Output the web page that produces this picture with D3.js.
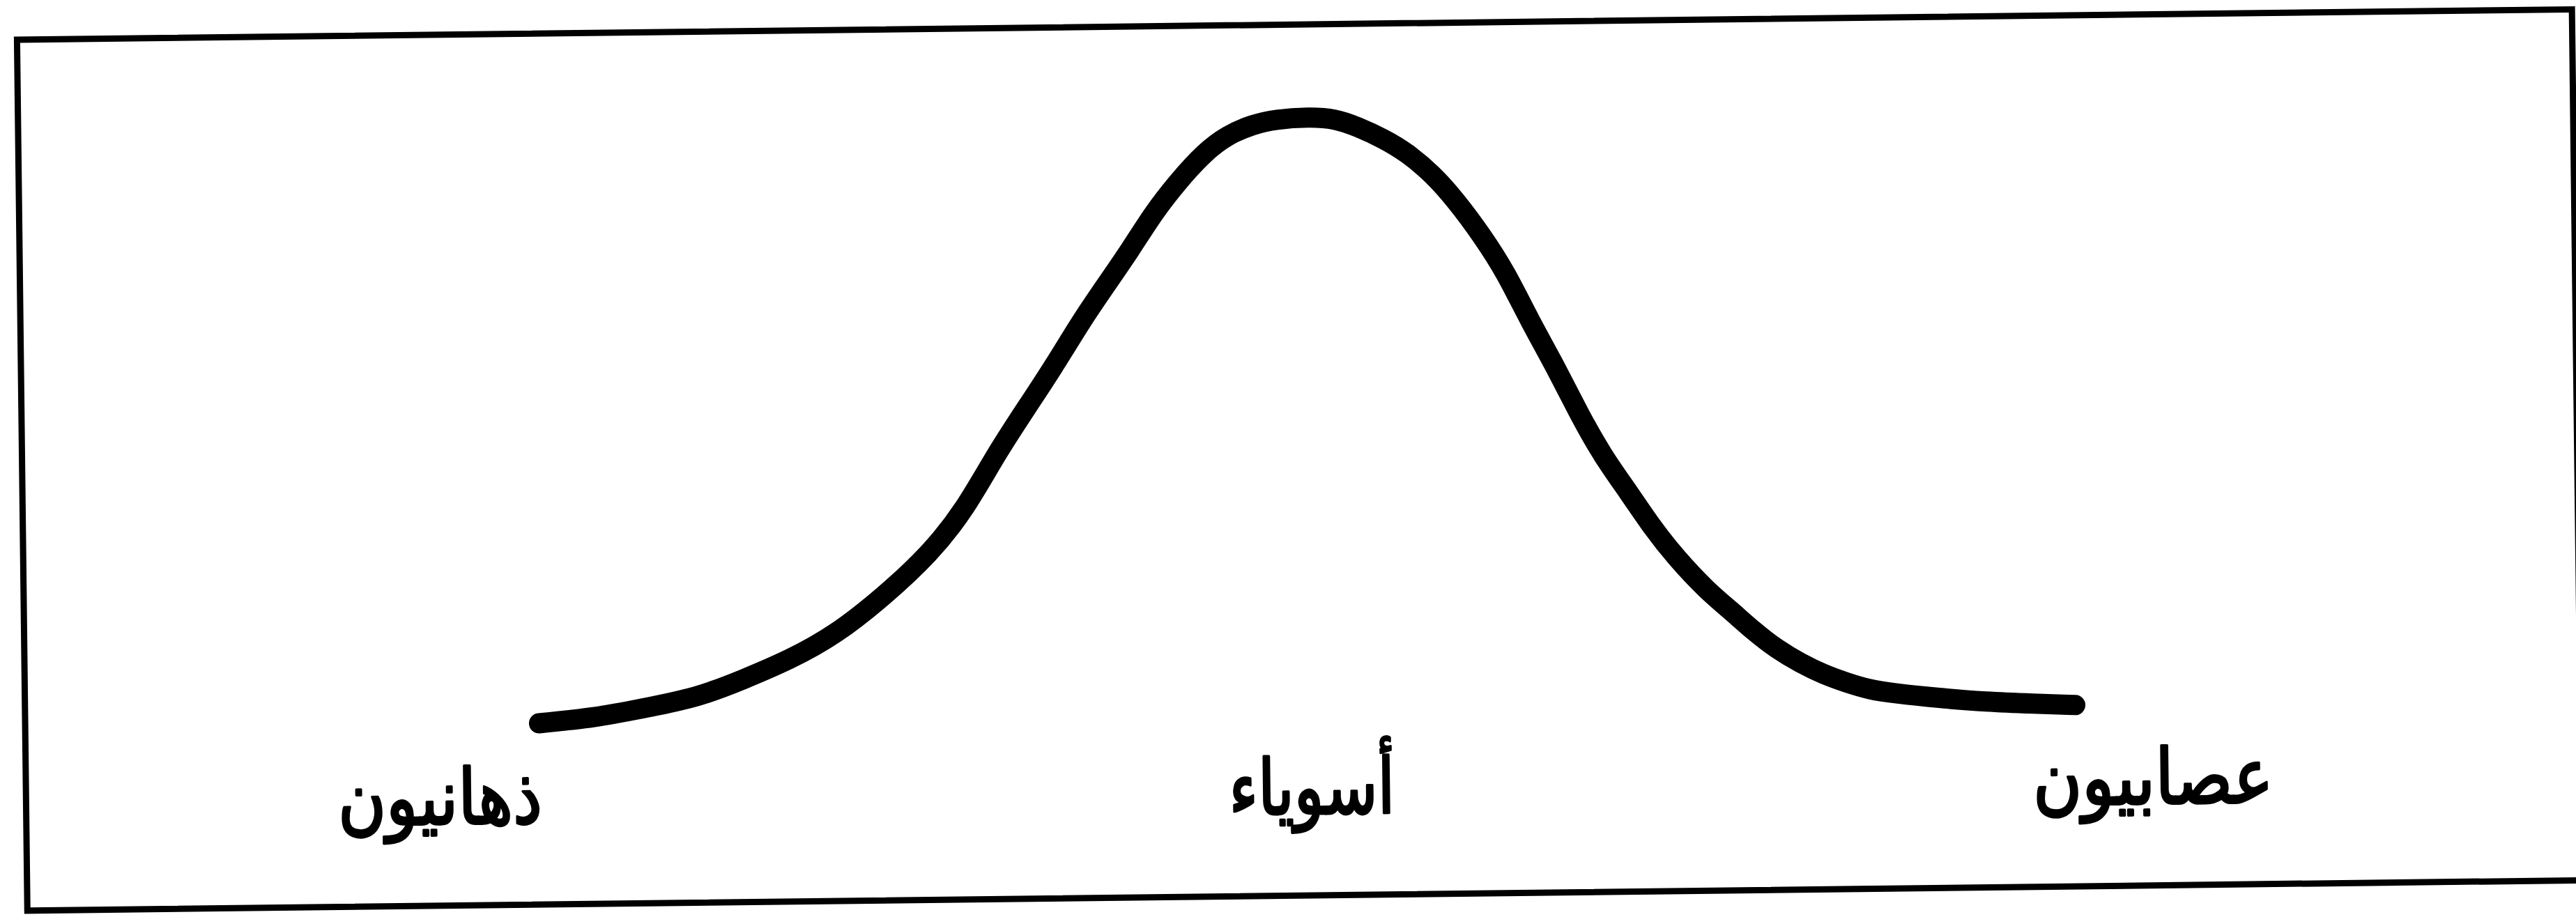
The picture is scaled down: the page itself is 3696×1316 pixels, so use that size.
<!DOCTYPE html>
<html>
<head>
<meta charset="utf-8">
<script src="https://cdn.jsdelivr.net/npm/d3@7"></script>
<style>
  html, body { margin: 0; padding: 0; background: #fff; }
  svg { display: block; }
</style>
</head>
<body>
<div id="chart"></div>
<script>
// curve: position in standard deviations, height relative to the peak
var scores = [-3.01, -2.79, -2.61, -2.39, -2.21, -2.03, -1.85, -1.66, -1.48, -1.34, -1.21, -1.07,
    -0.97, -0.88, -0.78, -0.68, -0.59, -0.49, -0.39, -0.30, -0.20, -0.11, 0.02, 0.12, 0.21, 0.31,
    0.40, 0.50, 0.59, 0.69, 0.78, 0.87, 0.97, 1.06, 1.15, 1.25, 1.34, 1.43, 1.55, 1.64, 1.73,
    1.82, 1.91, 2.00, 2.09, 2.18, 2.27, 2.45, 2.63, 2.82, 2.98];
var heights = [0.023, 0.031, 0.045, 0.062, 0.091, 0.122, 0.162, 0.224, 0.292, 0.364, 0.459, 0.545,
    0.608, 0.669, 0.729, 0.788, 0.847, 0.899, 0.944, 0.972, 0.989, 0.997, 1.000, 0.997, 0.983, 0.963,
    0.940, 0.904, 0.860, 0.802, 0.742, 0.663, 0.586, 0.508, 0.439, 0.379, 0.321, 0.272, 0.217, 0.185, 0.150,
    0.120, 0.097, 0.078, 0.064, 0.052, 0.046, 0.037, 0.030, 0.026, 0.023];

var categories = ['ذهانيون', 'أسوياء', 'عصابيون'];
var categoryScores = [-3.4, 0, 3.28];

var width = 3696,
    height = 1316,
    labelWidths = [293, 238, 345];

var svg = d3.select('#chart').append('svg')
    .attr('width', width)
    .attr('height', height);

var x = d3.scaleLinear().domain([-3, 3]).range([772, 2980]),
    y = d3.scaleLinear().domain([0, 1]).range([1045, 168]);

// the scanned page sits slightly askew
var page = svg.append('g').attr('transform', 'rotate(-0.68, 1878, 600)');

page.append('rect')
    .attr('x', 31)
    .attr('y', 35)
    .attr('width', 3666)
    .attr('height', 1250)
    .attr('fill', 'none')
    .attr('stroke', '#000')
    .attr('stroke-width', 9);

var line = d3.line()
    .x(d => x(d[0]))
    .y(d => y(d[1]))
    .curve(d3.curveBasis);

page.append('path')
    .datum(d3.zip(scores, heights))
    .attr('d', line)
    .attr('fill', 'none')
    .attr('stroke', '#000')
    .attr('stroke-width', 29)
    .attr('stroke-linecap', 'round')
    .attr('stroke-linejoin', 'round');

page.selectAll('text.label')
    .data(categories)
    .join('text')
    .attr('class', 'label')
    .attr('x', (d, i) => x(categoryScores[i]))
    .attr('y', 1168)
    .attr('text-anchor', 'middle')
    .attr('direction', 'rtl')
    .attr('font-family', '"DejaVu Sans", sans-serif')
    .attr('font-size', 110)
    .attr('stroke', '#000')
    .attr('stroke-width', 3.5)
    .attr('stroke-linejoin', 'round')
    .attr('textLength', (d, i) => labelWidths[i])
    .attr('lengthAdjust', 'spacingAndGlyphs')
    .attr('fill', '#000')
    .text(d => d);
</script>
</body>
</html>
